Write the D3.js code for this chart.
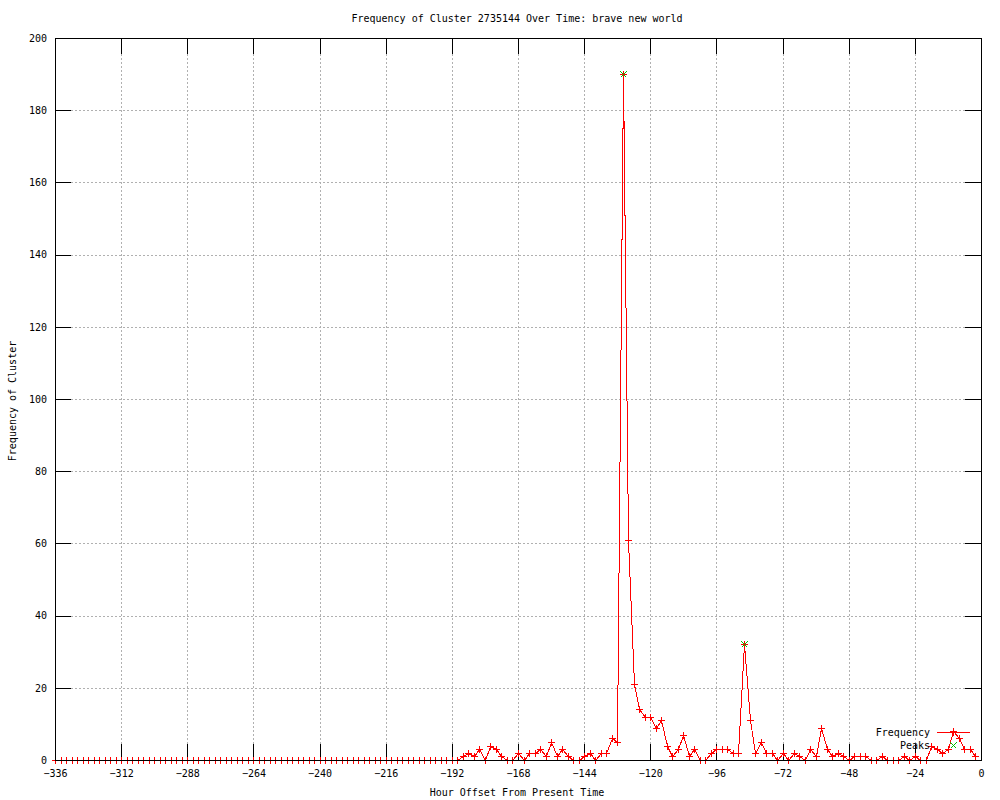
<!DOCTYPE html>
<html>
<head>
<meta charset="utf-8">
<script src="https://cdn.jsdelivr.net/npm/d3@7"></script>
<style>
  html, body { margin: 0; padding: 0; background: #fff; }
  svg { display: block; }
  text { font-family: "DejaVu Sans Mono", "Liberation Mono", monospace; font-size: 10px; fill: #000; }
</style>
</head>
<body>
<svg id="chart" width="1000" height="800"></svg>
<script>
// ---- data ----
const title = "Frequency of Cluster 2735144 Over Time: brave new world";
const xLabel = "Hour Offset From Present Time";
const yLabel = "Frequency of Cluster";
const seriesNames = ["Frequency", "Peaks"];

const hours = [
  -336,-334,-332,-330,-328,-326,-324,-322,-320,-318,-316,-314,-312,-310,-308,-306,-304,-302,-300,-298,
  -296,-294,-292,-290,-288,-286,-284,-282,-280,-278,-276,-274,-272,-270,-268,-266,-264,-262,-260,-258,
  -256,-254,-252,-250,-248,-246,-244,-242,-240,-238,-236,-234,-232,-230,-228,-226,-224,-222,-220,-218,
  -216,-214,-212,-210,-208,-206,-204,-202,-200,-198,-196,-194,-192,-190,-188,-186,-184,-182,-180,-178,
  -176,-174,-172,-170,-168,-166,-164,-162,-160,-158,-156,-154,-152,-150,-148,-146,-144,-142,-140,-138,
  -136,-134,-132,-130,-128,-126,-124,-122,-120,-118,-116,-114,-112,-110,-108,-106,-104,-102,-100,-98,
  -96,-94,-92,-90,-88,-86,-84,-82,-80,-78,-76,-74,-72,-70,-68,-66,-64,-62,-60,-58,
  -56,-54,-52,-50,-48,-46,-44,-42,-40,-38,-36,-34,-32,-30,-28,-26,-24,-22,-20,-18,
  -16,-14,-12,-10,-8,-6,-4,-2
];
const frequency = [
  0,0,0,0,0,0,0,0,0,0,0,0,0,0,0,0,0,0,0,0,
  0,0,0,0,0,0,0,0,0,0,0,0,0,0,0,0,0,0,0,0,
  0,0,0,0,0,0,0,0,0,0,0,0,0,0,0,0,0,0,0,0,
  0,0,0,0,0,0,0,0,0,0,0,0,0,0,1,2,1,3,0,4,
  3,1,0,0,2,0,2,2,3,1,5,1,3,1,0,0,1,2,0,2,
  2,6,5,190,61,21,14,12,12,9,11,4,1,3,7,1,3,0,0,2,
  3,3,3,2,2,32,11,2,5,2,2,0,2,0,2,1,0,3,1,9,
  3,1,2,1,0,1,1,1,0,0,1,0,0,0,1,0,1,0,0,4,
  3,2,3,8,6,3,3,1
];
const peakHours = [-130, -86];
const peakValues = [190, 32];

const xTicks = [-336,-312,-288,-264,-240,-216,-192,-168,-144,-120,-96,-72,-48,-24,0];
const yTicks = [0,20,40,60,80,100,120,140,160,180,200];

// ---- layout ----
const L = 55, R = 981, T = 38, B = 760;
const svg = d3.select("#chart");
const x = d3.scaleLinear().domain([-336, 0]).range([L, R]);
const y = d3.scaleLinear().domain([0, 200]).range([B, T]);

// grid
const grid = svg.append("g").attr("shape-rendering", "crispEdges")
  .attr("stroke", "#b0b0b0").attr("stroke-dasharray", "2,2").attr("stroke-width", 1);
grid.selectAll("line.gx").data(xTicks.filter(d => d > -336 && d < 0)).join("line")
  .attr("x1", d => Math.round(x(d)) + 0.5).attr("x2", d => Math.round(x(d)) + 0.5)
  .attr("y1", T).attr("y2", B);
grid.selectAll("line.gy").data(yTicks.filter(d => d > 0 && d < 200)).join("line")
  .attr("x1", L).attr("x2", R)
  .attr("y1", d => Math.round(y(d)) + 0.5).attr("y2", d => Math.round(y(d)) + 0.5);

// axes
function styleAxis(g) {
  g.select(".domain").remove();
  g.selectAll(".tick line").attr("stroke", "#000").attr("shape-rendering", "crispEdges");
  g.selectAll("text").attr("font-family", "DejaVu Sans Mono, monospace").attr("font-size", 10).attr("fill", "#000");
  g.attr("font-family", null).attr("font-size", null);
}
svg.append("g").attr("transform", `translate(0,${B})`)
  .call(d3.axisBottom(x).tickValues(xTicks).tickSize(-16).tickPadding(10).tickFormat(d3.format("d")))
  .call(styleAxis);
svg.append("g").attr("transform", `translate(0,${T})`)
  .call(d3.axisTop(x).tickValues(xTicks).tickSize(-16).tickFormat(""))
  .call(styleAxis);
svg.append("g").attr("transform", `translate(${L},0)`)
  .call(d3.axisLeft(y).tickValues(yTicks).tickSize(-16).tickPadding(8).tickFormat(d3.format("d")))
  .call(styleAxis);
svg.append("g").attr("transform", `translate(${R},0)`)
  .call(d3.axisRight(y).tickValues(yTicks).tickSize(-16).tickFormat(""))
  .call(styleAxis);

// data line
const pts = hours.map((h, i) => [h, frequency[i]]);
const line = d3.line().x(d => Math.round(x(d[0])) + 0.5).y(d => Math.round(y(d[1])) + 0.5);
svg.append("path").datum(pts).attr("d", line)
  .attr("fill", "none").attr("stroke", "#ff0000").attr("stroke-width", 1)
  .attr("shape-rendering", "crispEdges");

const plusPath = "M-3.5,0H3.5M0,-3.5V3.5";
const crossPath = "M-3,-3L3,3M-3,3L3,-3";
svg.append("g").attr("shape-rendering", "crispEdges").selectAll("path").data(pts).join("path")
  .attr("transform", d => `translate(${Math.round(x(d[0])) + 0.5},${Math.round(y(d[1])) + 0.5})`)
  .attr("d", plusPath).attr("stroke", "#ff0000").attr("stroke-width", 1).attr("fill", "none");

// peaks
const peakPts = peakHours.map((h, i) => [h, peakValues[i]]);
svg.append("g").attr("shape-rendering", "crispEdges").selectAll("path").data(peakPts).join("path")
  .attr("transform", d => `translate(${Math.round(x(d[0])) + 0.5},${Math.round(y(d[1])) + 0.5})`)
  .attr("d", crossPath).attr("stroke", "#00c000").attr("stroke-width", 1).attr("fill", "none");

// frame
svg.append("rect").attr("x", L + 0.5).attr("y", T + 0.5).attr("width", R - L).attr("height", B - T)
  .attr("fill", "none").attr("stroke", "#000").attr("stroke-width", 1).attr("shape-rendering", "crispEdges");

// legend
const lg = svg.append("g").attr("shape-rendering", "crispEdges");
lg.append("text").attr("x", 930).attr("y", 736).attr("text-anchor", "end").text(seriesNames[0]);
lg.append("line").attr("x1", 937).attr("x2", 970).attr("y1", 732.5).attr("y2", 732.5)
  .attr("stroke", "#ff0000").attr("stroke-width", 1);
lg.append("path").attr("transform", "translate(953.5,732.5)").attr("d", plusPath)
  .attr("stroke", "#ff0000").attr("fill", "none");
lg.append("text").attr("x", 930).attr("y", 749).attr("text-anchor", "end").text(seriesNames[1]);
lg.append("path").attr("transform", "translate(953.5,745.5)").attr("d", crossPath)
  .attr("stroke", "#00c000").attr("fill", "none");

// titles
svg.append("text").attr("x", 517).attr("y", 22).attr("text-anchor", "middle").text(title);
svg.append("text").attr("x", 517).attr("y", 796).attr("text-anchor", "middle").text(xLabel);
svg.append("text").attr("transform", "translate(16,401) rotate(-90)").attr("text-anchor", "middle").text(yLabel);
</script>
</body>
</html>
